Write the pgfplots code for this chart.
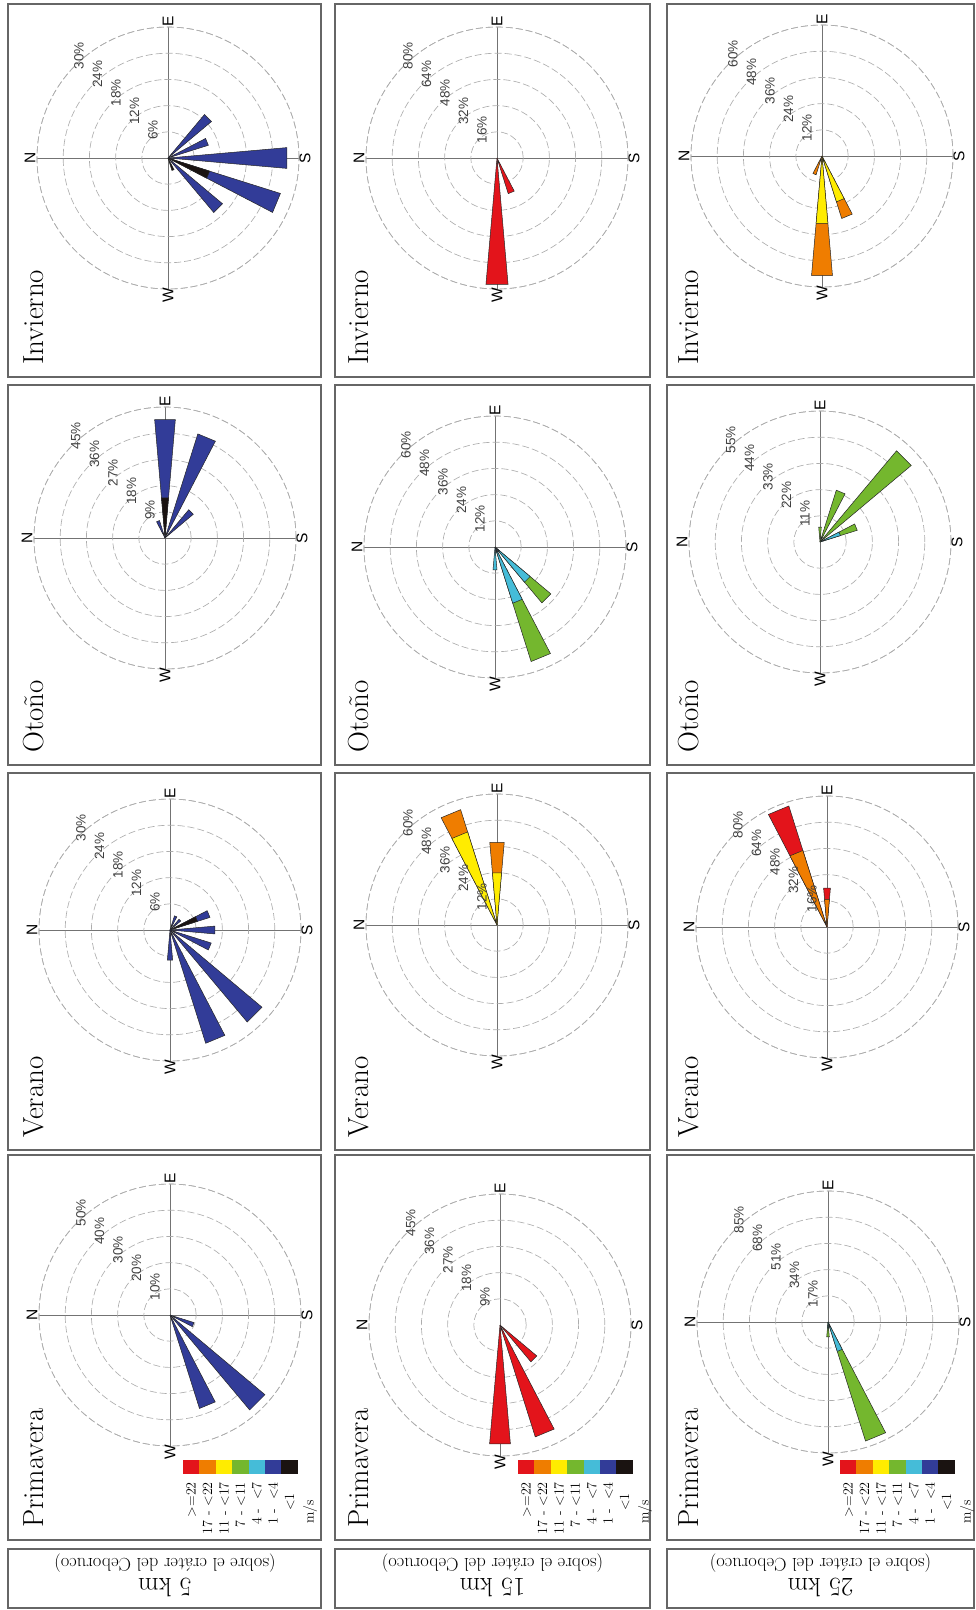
\documentclass[border=0pt]{standalone}
\usepackage{fontspec}
\usepackage{pgfplots}
\pgfplotsset{compat=1.18}
\usepgfplotslibrary{polar}
\newfontfamily\sansf{Liberation Sans}

\definecolor{wRed}{HTML}{E3141B}
\definecolor{wOra}{HTML}{EF7D00}
\definecolor{wYel}{HTML}{FFEC00}
\definecolor{wGre}{HTML}{74B72E}
\definecolor{wCya}{HTML}{45BCD8}
\definecolor{wBlu}{HTML}{323C98}
\definecolor{wBla}{HTML}{1A1311}

\pgfplotsset{
  rose/.style={
    scale only axis, width=262pt, height=262pt, anchor=center,
    xmin=0, xmax=360, ymin=0,
    xtick={0,90,180,270}, xticklabels={}, yticklabels={},
    tick label style={opacity=0},
    major tick length=0pt,
    xmajorgrids, ymajorgrids,
    x grid style={black!55, line width=0.9pt, solid},
    y grid style={black!32, line width=0.65pt, dash pattern=on 7pt off 3pt},
    separate axis lines,
    x axis line style={black!32, line width=0.65pt, dash pattern=on 7pt off 3pt},
    y axis line style={opacity=0},
    clip=false,
    every axis plot/.append style={draw=black!85, line width=0.5pt, mark=none},
  }
}

\tikzset{
  ptitle/.style={rotate=90, anchor=base west, inner sep=0pt, font=\fontsize{29}{29}\selectfont},
  cmp/.style={rotate=90, inner sep=0pt, font=\sansf\fontsize{15.5}{15.5}\selectfont},
  rl/.style={rotate=90, inner sep=0pt, text=black!75, font=\sansf\fontsize{13.5}{13.5}\selectfont},
  lg/.style={rotate=90, anchor=east, inner sep=0pt, font=\fontsize{14}{14}\selectfont},
}

\newcommand\decor[7]{%
\begin{scope}[shift={(#1pt,-#2pt)}]
  \node[cmp] at (-138pt,0pt) {N};
  \node[cmp] at (137pt,0pt) {S};
  \node[cmp] at (0pt,137pt) {E};
  \node[cmp] at (0pt,-137pt) {W};
  \path (135:26.2pt) ++(3.5pt,9.5pt) node[rl] {#3};
  \path (135:52.4pt) ++(3.5pt,9.5pt) node[rl] {#4};
  \path (135:78.6pt) ++(3.5pt,9.5pt) node[rl] {#5};
  \path (135:104.8pt) ++(3.5pt,9.5pt) node[rl] {#6};
  \path (135:131pt) ++(3.5pt,9.5pt) node[rl] {#7};
\end{scope}}

\newcommand\wlegend[2]{%
\begin{scope}[shift={(#1pt,-#2pt)}]
  \fill[wRed] (0pt,0pt) rectangle (16.4pt,-14pt);
  \fill[wOra] (16.4pt,0pt) rectangle (32.8pt,-14pt);
  \fill[wYel] (32.8pt,0pt) rectangle (49.2pt,-14pt);
  \fill[wGre] (49.2pt,0pt) rectangle (65.6pt,-14pt);
  \fill[wCya] (65.6pt,0pt) rectangle (82pt,-14pt);
  \fill[wBlu] (82pt,0pt) rectangle (98.4pt,-14pt);
  \fill[wBla] (98.4pt,0pt) rectangle (114.8pt,-14pt);
  \node[lg] at (8.2pt,-22pt) {>=22};
  \node[lg] at (24.6pt,-22pt) {17 - <22};
  \node[lg] at (41pt,-22pt) {11 - <17};
  \node[lg] at (57.4pt,-22pt) {7 - <11};
  \node[lg] at (73.8pt,-22pt) {4 -\ \ <7};
  \node[lg] at (90.2pt,-22pt) {1 -\ \ <4};
  \node[lg] at (106.6pt,-33pt) {<1};
  \node[lg] at (127pt,-40pt) {m/s};
\end{scope}}

\begin{document}
\begin{tikzpicture}
\path[use as bounding box] (0pt,0pt) rectangle (976pt,-1610pt);

% panel frames
\foreach \xa/\xb in {8/321,335/650,667/974}{
  \foreach \ya/\yb in {4/377,385/765,773/1150,1155/1540,1549/1608}{
    \draw[black!60,line width=1.6pt] (\xa pt,-\ya pt) rectangle (\xb pt,-\yb pt);
  }
}

% titles
\node[ptitle] at (43pt,-365pt) {Invierno};
\node[ptitle] at (368pt,-365pt) {Invierno};
\node[ptitle] at (698pt,-365pt) {Invierno};
\node[ptitle] at (43pt,-753pt) {Otoño};
\node[ptitle] at (368pt,-753pt) {Otoño};
\node[ptitle] at (698pt,-753pt) {Otoño};
\node[ptitle] at (43pt,-1138pt) {Verano};
\node[ptitle] at (368pt,-1138pt) {Verano};
\node[ptitle] at (698pt,-1138pt) {Verano};
\node[ptitle] at (43pt,-1528pt) {Primavera};
\node[ptitle] at (368pt,-1528pt) {Primavera};
\node[ptitle] at (698pt,-1528pt) {Primavera};

% height boxes (upside down)
\node[rotate=180, inner sep=0pt, font=\fontsize{26.5}{26.5}\selectfont] at (165pt,-1587pt) {5 km};
\node[rotate=180, inner sep=0pt, font=\fontsize{18.5}{18.5}\selectfont] at (165pt,-1563pt) {(sobre el cráter del Ceboruco)};
\node[rotate=180, inner sep=0pt, font=\fontsize{26.5}{26.5}\selectfont] at (492.5pt,-1587pt) {15 km};
\node[rotate=180, inner sep=0pt, font=\fontsize{18.5}{18.5}\selectfont] at (492.5pt,-1563pt) {(sobre el cráter del Ceboruco)};
\node[rotate=180, inner sep=0pt, font=\fontsize{26.5}{26.5}\selectfont] at (820.5pt,-1587pt) {25 km};
\node[rotate=180, inner sep=0pt, font=\fontsize{18.5}{18.5}\selectfont] at (820.5pt,-1563pt) {(sobre el cráter del Ceboruco)};

% ---------- Invierno 5 km
\begin{polaraxis}[rose, at={(168pt,-158pt)}, ymax=30, ytick={6,12,18,24,30}]
\addplot[fill=wBlu] coordinates {(0,0) (40,13) (50,13) (0,0)};
\addplot[fill=wBlu] coordinates {(0,0) (17.5,9.7) (27.5,9.7) (0,0)};
\addplot[fill=wBlu] coordinates {(0,0) (-5,27.3) (5,27.3) (0,0)};
\addplot[fill=wBlu] coordinates {(0,0) (-27.5,27) (-17.5,27) (0,0)};
\addplot[fill=wBla] coordinates {(0,0) (-27.5,10) (-17.5,10) (0,0)};
\addplot[fill=wBlu] coordinates {(0,0) (-50,16.3) (-40,16.3) (0,0)};
\addplot[fill=wBla] coordinates {(0,0) (-72.5,3) (-62.5,3) (0,0)};
\end{polaraxis}
\decor{168}{158}{6\%}{12\%}{18\%}{24\%}{30\%}

% ---------- Invierno 15 km
\begin{polaraxis}[rose, at={(497pt,-158pt)}, ymax=80, ytick={16,32,48,64,80}]
\addplot[fill=wRed] coordinates {(0,0) (-95,77.5) (-85,77.5) (0,0)};
\addplot[fill=wRed] coordinates {(0,0) (-72.5,22.8) (-62.5,22.8) (0,0)};
\end{polaraxis}
\decor{497}{158}{16\%}{32\%}{48\%}{64\%}{80\%}

% ---------- Invierno 25 km
\begin{polaraxis}[rose, at={(822pt,-156pt)}, ymax=60, ytick={12,24,36,48,60}]
\addplot[fill=wOra] coordinates {(0,0) (-95,55) (-85,55) (0,0)};
\addplot[fill=wYel] coordinates {(0,0) (-95,31) (-85,31) (0,0)};
\addplot[fill=wOra] coordinates {(0,0) (-72.5,30) (-62.5,30) (0,0)};
\addplot[fill=wYel] coordinates {(0,0) (-72.5,22) (-62.5,22) (0,0)};
\addplot[fill=wOra] coordinates {(0,0) (-117.5,9) (-107.5,9) (0,0)};
\end{polaraxis}
\decor{822}{156}{12\%}{24\%}{36\%}{48\%}{60\%}

% ---------- Otoño 5 km
\begin{polaraxis}[rose, at={(165pt,-538pt)}, ymax=45, ytick={9,18,27,36,45}]
\addplot[fill=wBlu] coordinates {(0,0) (85,40.8) (95,40.8) (0,0)};
\addplot[fill=wBla] coordinates {(0,0) (85,13.8) (95,13.8) (0,0)};
\addplot[fill=wBlu] coordinates {(0,0) (62.5,37.5) (72.5,37.5) (0,0)};
\addplot[fill=wBlu] coordinates {(0,0) (40,12.7) (50,12.7) (0,0)};
\addplot[fill=wBlu] coordinates {(0,0) (107.5,6.3) (117.5,6.3) (0,0)};
\end{polaraxis}
\decor{165}{538}{9\%}{18\%}{27\%}{36\%}{45\%}

% ---------- Otoño 15 km
\begin{polaraxis}[rose, at={(495pt,-547pt)}, ymax=60, ytick={12,24,36,48,60}]
\addplot[fill=wCya] coordinates {(0,0) (-95,10.5) (-85,10.5) (0,0)};
\addplot[fill=wGre] coordinates {(0,0) (-72.5,55) (-62.5,55) (0,0)};
\addplot[fill=wCya] coordinates {(0,0) (-72.5,27) (-62.5,27) (0,0)};
\addplot[fill=wBlu] coordinates {(0,0) (-72.5,2.5) (-62.5,2.5) (0,0)};
\addplot[fill=wGre] coordinates {(0,0) (-50,33.4) (-40,33.4) (0,0)};
\addplot[fill=wCya] coordinates {(0,0) (-50,21) (-40,21) (0,0)};
\addplot[fill=wBlu] coordinates {(0,0) (-50,2.5) (-40,2.5) (0,0)};
\end{polaraxis}
\decor{495}{547}{12\%}{24\%}{36\%}{48\%}{60\%}

% ---------- Otoño 25 km
\begin{polaraxis}[rose, at={(820pt,-542pt)}, ymax=55, ytick={11,22,33,44,55}, xtick={90,270}]
\addplot[fill=wGre] coordinates {(0,0) (40,50) (50,50) (0,0)};
\addplot[fill=wGre] coordinates {(0,0) (62.5,22.8) (72.5,22.8) (0,0)};
\addplot[fill=wGre] coordinates {(0,0) (17.5,16.4) (27.5,16.4) (0,0)};
\addplot[fill=wCya] coordinates {(0,0) (17.5,9) (27.5,9) (0,0)};
\addplot[fill=wGre] coordinates {(0,0) (85,6.3) (95,6.3) (0,0)};
\end{polaraxis}
\decor{820}{542}{11\%}{22\%}{33\%}{44\%}{55\%}

% ---------- Verano 5 km
\begin{polaraxis}[rose, at={(170pt,-930pt)}, ymax=30, ytick={6,12,18,24,30}]
\addplot[fill=wBlu] coordinates {(0,0) (17.5,9.6) (27.5,9.6) (0,0)};
\addplot[fill=wBla] coordinates {(0,0) (17.5,6.6) (27.5,6.6) (0,0)};
\addplot[fill=wBlu] coordinates {(0,0) (-5,10.3) (5,10.3) (0,0)};
\addplot[fill=wBlu] coordinates {(0,0) (-27.5,9.9) (-17.5,9.9) (0,0)};
\addplot[fill=wBlu] coordinates {(0,0) (-50,27.5) (-40,27.5) (0,0)};
\addplot[fill=wBlu] coordinates {(0,0) (-72.5,27.2) (-62.5,27.2) (0,0)};
\addplot[fill=wBlu] coordinates {(0,0) (-95,6.9) (-85,6.9) (0,0)};
\addplot[fill=wBlu] coordinates {(0,0) (62.5,3.4) (72.5,3.4) (0,0)};
\addplot[fill=wBlu] coordinates {(0,0) (40,3.2) (50,3.2) (0,0)};
\end{polaraxis}
\decor{170}{930}{6\%}{12\%}{18\%}{24\%}{30\%}

% ---------- Verano 15 km
\begin{polaraxis}[rose, at={(497pt,-925pt)}, ymax=60, ytick={12,24,36,48,60}]
\addplot[fill=wOra] coordinates {(0,0) (85,38) (95,38) (0,0)};
\addplot[fill=wYel] coordinates {(0,0) (85,24) (95,24) (0,0)};
\addplot[fill=wOra] coordinates {(0,0) (107.5,55.4) (117.5,55.4) (0,0)};
\addplot[fill=wYel] coordinates {(0,0) (107.5,44.7) (117.5,44.7) (0,0)};
\end{polaraxis}
\decor{497}{925}{12\%}{24\%}{36\%}{48\%}{60\%}

% ---------- Verano 25 km
\begin{polaraxis}[rose, at={(827pt,-927pt)}, ymax=80, ytick={16,32,48,64,80}]
\addplot[fill=wRed] coordinates {(0,0) (107.5,77.5) (117.5,77.5) (0,0)};
\addplot[fill=wOra] coordinates {(0,0) (107.5,49) (117.5,49) (0,0)};
\addplot[fill=wRed] coordinates {(0,0) (85,23.8) (95,23.8) (0,0)};
\addplot[fill=wOra] coordinates {(0,0) (85,17) (95,17) (0,0)};
\end{polaraxis}
\decor{827}{927}{16\%}{32\%}{48\%}{64\%}{80\%}

% ---------- Primavera 5 km
\begin{polaraxis}[rose, at={(170pt,-1315pt)}, ymax=50, ytick={10,20,30,40,50}]
\addplot[fill=wBlu] coordinates {(0,0) (-72.5,37.4) (-62.5,37.4) (0,0)};
\addplot[fill=wBlu] coordinates {(0,0) (-50,47.3) (-40,47.3) (0,0)};
\addplot[fill=wBlu] coordinates {(0,0) (-27.5,9.6) (-17.5,9.6) (0,0)};
\end{polaraxis}
\decor{170}{1315}{10\%}{20\%}{30\%}{40\%}{50\%}
\wlegend{183}{1460}

% ---------- Primavera 15 km
\begin{polaraxis}[rose, at={(500pt,-1325pt)}, ymax=45, ytick={9,18,27,36,45}, xtick={90,270}]
\addplot[fill=wRed] coordinates {(0,0) (-95,41) (-85,41) (0,0)};
\addplot[fill=wRed] coordinates {(0,0) (-72.5,40.3) (-62.5,40.3) (0,0)};
\addplot[fill=wRed] coordinates {(0,0) (-50,16.5) (-40,16.5) (0,0)};
\end{polaraxis}
\decor{500}{1325}{9\%}{18\%}{27\%}{36\%}{45\%}
\wlegend{518}{1460}

% ---------- Primavera 25 km
\begin{polaraxis}[rose, at={(828pt,-1322pt)}, ymax=85, ytick={17,34,51,68,85}]
\addplot[fill=wGre] coordinates {(0,0) (-72.5,81) (-62.5,81) (0,0)};
\addplot[fill=wCya] coordinates {(0,0) (-72.5,20) (-62.5,20) (0,0)};
\addplot[fill=wBlu] coordinates {(0,0) (-72.5,3) (-62.5,3) (0,0)};
\addplot[fill=wGre] coordinates {(0,0) (-95,9.7) (-85,9.7) (0,0)};
\addplot[fill=wCya] coordinates {(0,0) (-95,4) (-85,4) (0,0)};
\end{polaraxis}
\decor{828}{1322}{17\%}{34\%}{51\%}{68\%}{85\%}
\wlegend{840}{1460}

\end{tikzpicture}
\end{document}
